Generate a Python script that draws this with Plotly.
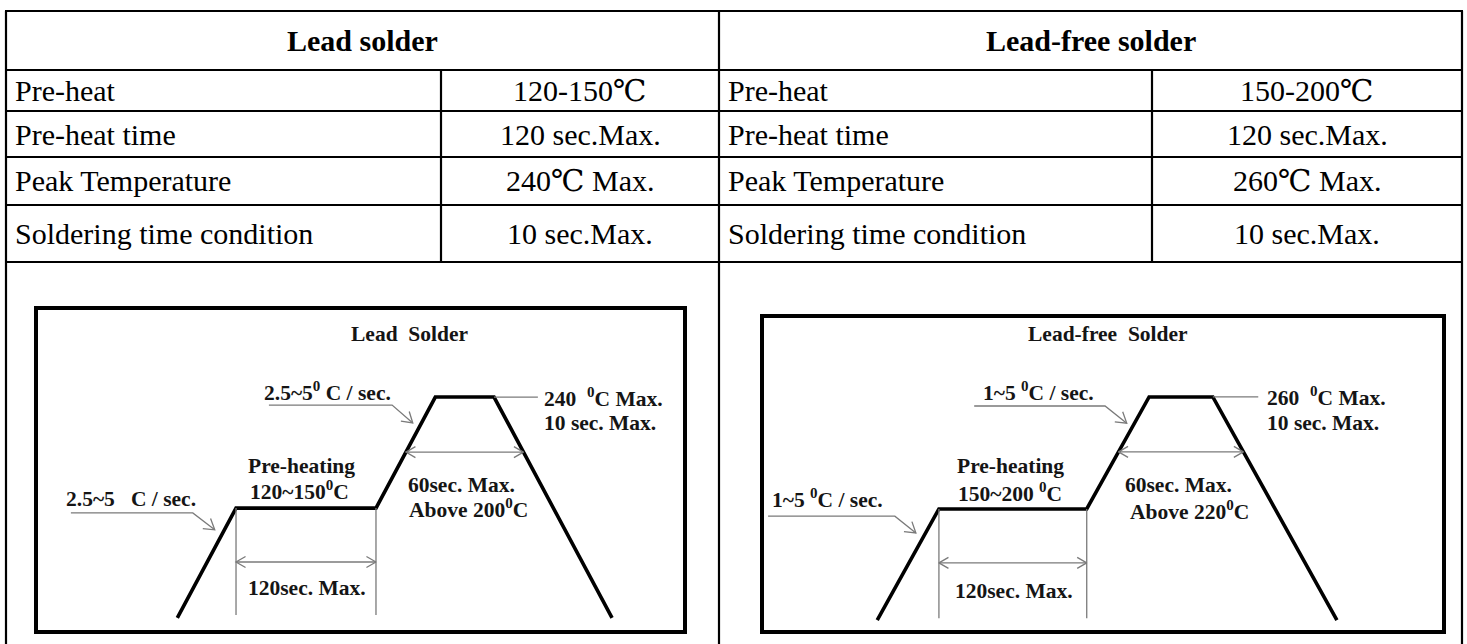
import numpy as np
import plotly.graph_objects as go

W, H = 1467, 644

# ---------------- table content ----------------
lead_title = "Lead solder"
free_title = "Lead-free solder"
param_names = ["Pre-heat", "Pre-heat time", "Peak Temperature", "Soldering time condition"]
lead_values = ["120-150℃", "120 sec.Max.", "240℃ Max.", "10 sec.Max."]
free_values = ["150-200℃", "120 sec.Max.", "260℃ Max.", "10 sec.Max."]

# ---------------- profile diagrams (schematic units, 0-100 inside each frame) ----------------
lead_t = [21.6, 30.7, 52.4, 61.6, 70.7, 89.0]
lead_T = [3.8, 38.1, 38.1, 72.8, 72.8, 3.8]
free_t = [16.7, 25.8, 47.6, 56.8, 66.2, 84.5]
free_T = [3.2, 38.8, 38.8, 74.7, 74.7, 3.2]

lead_title_d = "Lead\u00a0\u00a0Solder"
free_title_d = "Lead-free\u00a0\u00a0Solder"
lead_labels = ["2.5~5\u00a0\u00a0\u00a0C / sec.", "2.5~5<sup>0</sup> C / sec.", "240\u00a0\u00a0<sup>0</sup>C Max.",
               "10 sec. Max.", "Pre-heating", "120~150<sup>0</sup>C", "60sec. Max.", "Above 200<sup>0</sup>C",
               "120sec. Max."]
free_labels = ["1~5 <sup>0</sup>C / sec.", "1~5 <sup>0</sup>C / sec.", "260\u00a0\u00a0<sup>0</sup>C Max.",
               "10 sec. Max.", "Pre-heating", "150~200 <sup>0</sup>C", "60sec. Max.", "Above 220<sup>0</sup>C",
               "120sec. Max."]
# reflow level ("above 200/220") in schematic units
lead_reflow_level = 55.6
free_reflow_level = 57.1

# ---------------- layout geometry (pixels) ----------------
row_lines = [11, 70, 111, 157, 205, 262]
x_left, x_mid, x_right = 6, 719, 1462
x_col_l, x_col_r = 441, 1152

lead_box = dict(x0=38, x1=683, y0=310, y1=630)
free_box = dict(x0=764, x1=1442, y0=318, y1=630)

SERIF = "Liberation Serif, DejaVu Serif, serif"
GRAY = "#7a7a7a"
TXT = "#151515"


def px(x):
    return x / W


def py(y):
    return 1 - y / H


fig = go.Figure()
shapes = []
annots = []


def hline(y, x0, x1, w=2.2):
    shapes.append(dict(type="line", xref="paper", yref="paper", x0=px(x0), x1=px(x1), y0=py(y), y1=py(y),
                       line=dict(color="black", width=w)))


def vline(x, y0, y1, w=2.2):
    shapes.append(dict(type="line", xref="paper", yref="paper", x0=px(x), x1=px(x), y0=py(y0), y1=py(y1),
                       line=dict(color="black", width=w)))


for y in row_lines:
    hline(y, x_left - 1, x_right + 1)
vline(x_left, row_lines[0], H)
vline(x_right, row_lines[0], H)
vline(x_mid, row_lines[0], H)
vline(x_col_l, row_lines[1], row_lines[-1])
vline(x_col_r, row_lines[1], row_lines[-1])

TFS = 30
HFS = 30


def ptext(x, y, text, size, xanchor="center"):
    annots.append(dict(xref="paper", yref="paper", x=px(x), y=py(y), xanchor=xanchor, yanchor="middle",
                       text=text, showarrow=False, font=dict(family=SERIF, size=size, color="black")))


hy = (row_lines[0] + row_lines[1]) / 2
ptext((x_left + x_mid) / 2, hy, "<b>" + lead_title + "</b>", HFS)
ptext((x_mid + x_right) / 2, hy, "<b>" + free_title + "</b>", HFS)
for i, name in enumerate(param_names):
    yc = (row_lines[i + 1] + row_lines[i + 2]) / 2
    ptext(x_left + 7, yc, name, TFS, "left")
    ptext(x_mid + 7, yc, name, TFS, "left")
    ptext((x_col_l + x_mid) / 2, yc, lead_values[i], TFS)
    ptext((x_col_r + x_right) / 2, yc, free_values[i], TFS)


def vhead(tip, prev, sx, sy, L=11, ang=np.deg2rad(30)):
    dx = (tip[0] - prev[0]) * sx
    dy = (tip[1] - prev[1]) * sy
    n = np.hypot(dx, dy)
    ux, uy = dx / n, dy / n
    xs, ys = [], []
    for a in (ang, -ang):
        c, s = np.cos(a), np.sin(a)
        bx = -(ux * c - uy * s) * L
        by = -(ux * s + uy * c) * L
        xs.append(tip[0] + bx / sx)
        ys.append(tip[1] + by / sy)
    return [xs[0], tip[0], xs[1], None], [ys[0], tip[1], ys[1], None]


def crossing(t, T, level, side):
    # x where the rising (side=0) or falling (side=1) flank of the profile crosses level
    if side == 0:
        return float(np.interp(level, [T[2], T[3]], [t[2], t[3]]))
    return float(np.interp(level, [T[5], T[4]], [t[5], t[4]]))


def diagram(t, T, box, xa, ya, title, labels, reflow_level, spec):
    bw, bh = box["x1"] - box["x0"], box["y1"] - box["y0"]
    sx, sy = bw / 100.0, bh / 100.0
    xr, yr = xa.replace("axis", ""), ya.replace("axis", "")
    fig.add_trace(go.Scatter(x=t, y=T, mode="lines", line=dict(color="black", width=3.6),
                             xaxis=xr, yaxis=yr, hoverinfo="skip", showlegend=False))
    gx, gy = [], []
    for k in (1, 2):
        gx += [t[k], t[k], None]
        gy += [T[k], spec["vbottom"], None]
    lv = spec["pre_arrow"]
    gx += [t[1], t[2], None]
    gy += [lv, lv, None]
    hx, hy_ = vhead((t[1], lv), (t[2], lv), sx, sy); gx += hx; gy += hy_
    hx, hy_ = vhead((t[2], lv), (t[1], lv), sx, sy); gx += hx; gy += hy_
    a0 = crossing(t, T, reflow_level, 0)
    a1 = crossing(t, T, reflow_level, 1)
    gx += [a0, a1, None]
    gy += [reflow_level, reflow_level, None]
    hx, hy_ = vhead((a0, reflow_level), (a1, reflow_level), sx, sy); gx += hx; gy += hy_
    hx, hy_ = vhead((a1, reflow_level), (a0, reflow_level), sx, sy); gx += hx; gy += hy_
    for lx, ly in (spec["lead_low"], spec["lead_up"]):
        gx += lx + [None]
        gy += ly + [None]
        hx, hy_ = vhead((lx[-1], ly[-1]), (lx[-2], ly[-2]), sx, sy, L=12, ang=np.deg2rad(32))
        gx += hx; gy += hy_
    gx += [t[4], spec["peak_lead_end"], None]
    gy += [T[4], T[4], None]
    fig.add_trace(go.Scatter(x=gx, y=gy, mode="lines", line=dict(color=GRAY, width=1.3),
                             xaxis=xr, yaxis=yr, hoverinfo="skip", showlegend=False))
    common = dict(range=[0, 100], showline=True, mirror=True, linewidth=4, linecolor="black",
                  showgrid=False, zeroline=False, showticklabels=False, ticks="", fixedrange=True)
    fig.update_layout({xa: dict(domain=[px(box["x0"]), px(box["x1"])], anchor=yr, **common),
                       ya: dict(domain=[py(box["y1"]), py(box["y0"])], anchor=xr, **common)})
    f = dict(family=SERIF, size=21.5, color=TXT)
    annots.append(dict(xref=xr, yref=yr, x=spec["title_xy"][0], y=spec["title_xy"][1], text="<b>" + title + "</b>",
                       showarrow=False, font=f, yanchor="middle"))
    for txt, (x, y, anc) in zip(labels, spec["label_pos"]):
        annots.append(dict(xref=xr, yref=yr, x=x, y=y, xanchor=anc, yanchor="middle", text="<b>" + txt + "</b>",
                           showarrow=False, font=f))


lead_spec = dict(
    vbottom=4.7, pre_arrow=21.25,
    lead_low=([5.1, 24.0, 27.4], [36.6, 36.6, 31.3]),
    lead_up=([35.8, 54.9, 58.1], [70.3, 70.3, 64.7]),
    peak_lead_end=77.5,
    title_xy=(57.7, 92.5),
    label_pos=[(4.0, 40.9, "left"), (34.7, 74.4, "left"), (78.1, 72.8, "left"), (78.1, 64.7, "left"),
               (40.9, 51.2, "center"), (40.6, 43.6, "center"), (65.7, 45.4, "center"), (66.8, 37.9, "center"),
               (41.7, 13.1, "center")],
)
free_spec = dict(
    vbottom=3.8, pre_arrow=21.5,
    lead_low=([0.6, 19.3, 22.4], [36.5, 36.5, 31.1]),
    lead_up=([31.0, 50.3, 53.5], [71.8, 71.8, 66.3]),
    peak_lead_end=72.9,
    title_xy=(50.7, 94.9),
    label_pos=[(0.9, 42.0, "left"), (32.0, 76.6, "left"), (73.9, 74.7, "left"), (73.9, 66.3, "left"),
               (36.3, 52.5, "center"), (36.3, 44.0, "center"), (61.2, 46.6, "center"), (62.7, 38.3, "center"),
               (36.9, 12.5, "center")],
)

diagram(lead_t, lead_T, lead_box, "xaxis", "yaxis", lead_title_d, lead_labels, lead_reflow_level, lead_spec)
diagram(free_t, free_T, free_box, "xaxis2", "yaxis2", free_title_d, free_labels, free_reflow_level, free_spec)

fig.update_layout(width=W, height=H, margin=dict(l=0, r=0, t=0, b=0), paper_bgcolor="white",
                  plot_bgcolor="white", shapes=shapes, annotations=annots, showlegend=False)

fig.write_html("out.html", config={"displayModeBar": False},
               post_script="document.body.style.margin='0px';document.body.style.overflow='hidden';")
